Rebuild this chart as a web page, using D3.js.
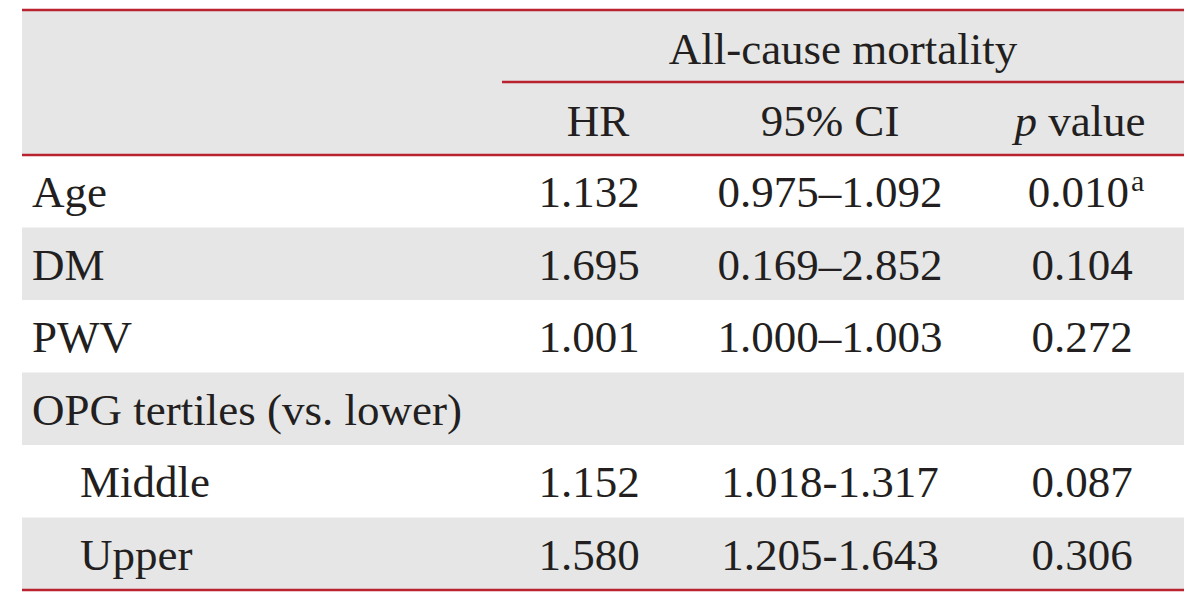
<!DOCTYPE html>
<html><head><meta charset="utf-8">
<script src="https://cdn.jsdelivr.net/npm/d3@7"></script>
<style>body{margin:0;background:#fff}svg{display:block}</style>
</head><body><svg id="c" width="1200" height="610"></svg>
<script>
const groupTitle = "All-cause mortality";
const columns = ["HR", "95% CI", "p value"];
const rowLabels = ["Age", "DM", "PWV", "OPG tertiles (vs. lower)", "Middle", "Upper"];
const rowLevel = [0, 0, 0, 0, 1, 1];
const hrValues = ["1.132", "1.695", "1.001", "", "1.152", "1.580"];
const ciValues = ["0.975–1.092", "0.169–2.852", "1.000–1.003", "", "1.018-1.317", "1.205-1.643"];
const pValues = ["0.010", "0.104", "0.272", "", "0.087", "0.306"];
const pNotes = ["a", "", "", "", "", ""];

(function () {
const svg = d3.select("#c");
const L = 22, R = 1184, T = 10, HB = 155, B = 590;
const red = "#b8232f", gray = "#e6e6e6", ink = "#231f20";
const font = "'Liberation Serif', 'DejaVu Serif', serif";
const fs = 45;

const y = d3.scaleBand().domain(d3.range(rowLabels.length)).range([HB, B]).padding(0);
const x = d3.scaleOrdinal().domain(columns).range([598, 830, 1080]);

svg.append("rect").attr("x", L).attr("y", T).attr("width", R - L).attr("height", HB - T).attr("fill", gray);
svg.selectAll("rect.row").data(rowLabels).join("rect").attr("class", "row")
  .attr("x", L).attr("width", R - L)
  .attr("y", (d, i) => y(i)).attr("height", y.bandwidth())
  .attr("fill", (d, i) => i % 2 === 1 ? gray : "#fff");

const lines = [[L, R, T], [502, R, 82], [L, R, HB], [L, R, B]];
svg.selectAll("line.rule").data(lines).join("line").attr("class", "rule")
  .attr("x1", d => d[0]).attr("x2", d => d[1]).attr("y1", d => d[2]).attr("y2", d => d[2])
  .attr("stroke", red).attr("stroke-width", 2.5);

const txt = (sel) => sel.attr("font-family", font).attr("font-size", fs).attr("fill", ink);

svg.append("text").call(txt).attr("x", 843).attr("y", 64).attr("text-anchor", "middle").text(groupTitle);

svg.selectAll("text.col").data(columns).join("text").attr("class", "col").call(txt)
  .attr("x", d => x(d)).attr("y", 136).attr("text-anchor", "middle")
  .each(function(d) {
    const t = d3.select(this);
    if (d === "p value") {
      t.append("tspan").attr("font-style", "italic").text("p");
      t.append("tspan").text(" value");
    } else t.text(d);
  });

const base = i => y(i) + 52;
svg.selectAll("text.lab").data(rowLabels).join("text").attr("class", "lab").call(txt)
  .attr("x", (d, i) => rowLevel[i] ? 80 : 32).attr("y", (d, i) => base(i)).text(d => d);

svg.selectAll("text.hr").data(hrValues).join("text").attr("class", "hr").call(txt)
  .attr("x", 589).attr("y", (d, i) => base(i)).attr("text-anchor", "middle").text(d => d);
svg.selectAll("text.ci").data(ciValues).join("text").attr("class", "ci").call(txt)
  .attr("x", 830).attr("y", (d, i) => base(i)).attr("text-anchor", "middle").text(d => d);
svg.selectAll("text.pv").data(pValues).join("text").attr("class", "pv").call(txt)
  .attr("x", (d, i) => pNotes[i] ? 1086 : 1082).attr("y", (d, i) => base(i)).attr("text-anchor", "middle")
  .each(function(d, i) {
    const t = d3.select(this);
    t.append("tspan").text(d);
    if (pNotes[i]) t.append("tspan").attr("font-size", 30).attr("dx", 2).attr("dy", -16).text(pNotes[i]);
  });
})();
</script></body></html>
